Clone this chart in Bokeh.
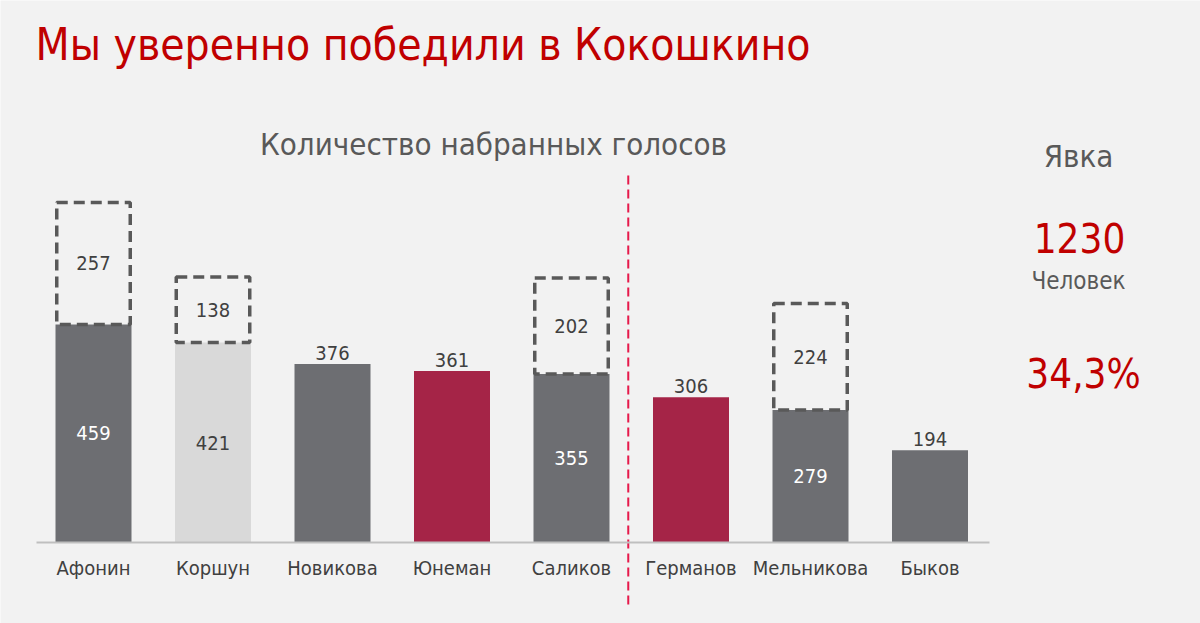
from bokeh.plotting import figure
from bokeh.models import ColumnDataSource, Range1d, Label, FixedTicker
from bokeh.core.properties import value
from bokeh.embed import file_html
from bokeh.resources import INLINE

# ---- data ----
names = ["Афонин", "Коршун", "Новикова", "Юнеман", "Саликов", "Германов", "Мельникова", "Быков"]
votes = [459, 421, 376, 361, 355, 306, 279, 194]
extra = [257, 138, 0, 0, 202, 0, 224, 0]
kinds = ["dark", "light", "dark", "red", "dark", "red", "dark", "dark"]
divider_before = "Германов"

title_text = "Мы уверенно победили в Кокошкино"
subtitle_text = "Количество набранных голосов"
turnout_title = "Явка"
turnout_people = "1230"
turnout_unit = "Человек"
turnout_pct = "34,3%"

FONT = "DejaVu Sans Condensed"
RED = "#c00000"
GRAY_TXT = "#595959"
LBL = "#404040"
palette = {"dark": "#6d6e72", "light": "#d9d9d9", "red": "#a52447"}

W, H = 1200, 623
PX_PER_VOTE = 0.475
BASE_Y = 542      # baseline pixel row
X0, STEP = 93, 119.5  # first category centre and spacing in pixels


def sx(px):
    return (px - X0) / STEP


def sy(py):
    return (BASE_Y - py) / PX_PER_VOTE


idx = list(range(len(names)))

p = figure(width=W, height=H, output_backend="svg", toolbar_location=None,
           x_range=Range1d(sx(0), sx(W)), y_range=Range1d(sy(H), sy(0)),
           y_axis_location=None, min_border=0)
p.background_fill_color = "#f2f2f2"
p.border_fill_color = "#f2f2f2"
p.outline_line_color = None
p.xgrid.grid_line_color = None
p.ygrid.grid_line_color = None

fill = [palette[k] for k in kinds]
src = ColumnDataSource(dict(x=idx, v=votes, fill=fill))
p.vbar(x="x", top="v", width=0.636, fill_color="fill", line_color=None, source=src)

# dashed boxes for extra votes
bi = [i for i in idx if extra[i] > 0]
bsrc = ColumnDataSource(dict(
    x=bi,
    bottom=[votes[i] for i in bi],
    top=[votes[i] + extra[i] for i in bi],
    mid=[votes[i] + extra[i] / 2 for i in bi],
    txt=[str(extra[i]) for i in bi],
))
p.vbar(x="x", bottom="bottom", top="top", width=0.615, fill_color=None,
       line_color="#595959", line_width=3.5, line_dash="11 6", source=bsrc)
p.text(x="x", y="mid", text="txt", source=bsrc, text_align="center", text_baseline="middle",
       text_font=value(FONT), text_font_size="20px", text_color=LBL)

# labels inside bars (those with an extra box)
isrc = ColumnDataSource(dict(
    x=bi,
    y=[votes[i] / 2 for i in bi],
    txt=[str(votes[i]) for i in bi],
    col=["#ffffff" if kinds[i] != "light" else LBL for i in bi],
))
p.text(x="x", y="y", text="txt", text_color="col", source=isrc, text_align="center",
       text_baseline="middle", text_font=value(FONT), text_font_size="20px")

# labels above bars
ai = [i for i in idx if extra[i] == 0]
asrc = ColumnDataSource(dict(
    x=ai,
    y=[votes[i] for i in ai],
    txt=[str(votes[i]) for i in ai],
))
p.text(x="x", y="y", text="txt", source=asrc, text_align="center", text_baseline="bottom",
       y_offset=-4, text_font=value(FONT), text_font_size="20px", text_color=LBL)

# category axis at the baseline
ax = p.xaxis[0]
ax.fixed_location = 0
ax.bounds = (-0.48, len(names) - 0.5)
ax.ticker = FixedTicker(ticks=idx)
ax.major_label_overrides = {i: n for i, n in zip(idx, names)}
ax.axis_line_color = "#bfbfbf"
ax.axis_line_width = 2
ax.major_tick_line_color = None
ax.minor_tick_line_color = None
ax.major_label_text_font = FONT
ax.major_label_text_font_size = "20px"
ax.major_label_text_color = LBL
ax.major_label_standoff = 7

# vertical red dashed divider between the two groups
dx = names.index(divider_before) - 0.525
p.segment(x0=[dx], x1=[dx], y0=[sy(175)], y1=[sy(606)],
          line_color="#e6194b", line_width=2, line_dash="9 5")

p.add_layout(Label(x=sx(35), y=sy(44), text=title_text, text_font=FONT, text_font_size="44px",
                   text_color=RED, text_baseline="middle", text_align="left"))
p.add_layout(Label(x=sx(493), y=sy(143), text=subtitle_text, text_font=FONT, text_font_size="31px",
                   text_color=GRAY_TXT, text_baseline="middle", text_align="center"))
p.add_layout(Label(x=sx(1078), y=sy(155), text=turnout_title, text_font=FONT, text_font_size="31px",
                   text_color=GRAY_TXT, text_baseline="middle", text_align="center"))
p.add_layout(Label(x=sx(1079), y=sy(237), text=turnout_people, text_font=FONT, text_font_size="40px",
                   text_color=RED, text_baseline="middle", text_align="center"))
p.add_layout(Label(x=sx(1078), y=sy(280), text=turnout_unit, text_font=FONT, text_font_size="24px",
                   text_color=GRAY_TXT, text_baseline="middle", text_align="center"))
p.add_layout(Label(x=sx(1083), y=sy(373), text=turnout_pct, text_font=FONT, text_font_size="40px",
                   text_color=RED, text_baseline="middle", text_align="center"))

open("out.html", "w").write(file_html(p, INLINE))
